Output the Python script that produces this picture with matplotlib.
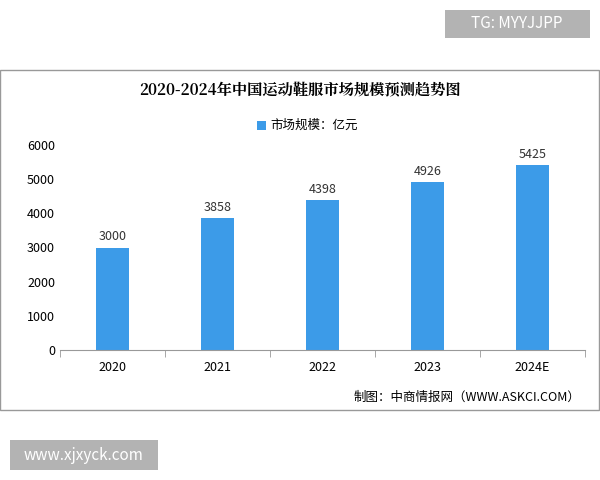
import matplotlib
matplotlib.use("Agg")
import matplotlib.pyplot as plt
from matplotlib.patches import Rectangle

plt.rcParams['font.family'] = ['Noto Sans CJK SC', 'DejaVu Sans']

years = ["2020", "2021", "2022", "2023", "2024E"]
values = [3000, 3858, 4398, 4926, 5425]

fig = plt.figure(figsize=(6, 4.8), dpi=100)
fig.patches.append(Rectangle((0.0, 1-410/480), 0.999, 340/480, transform=fig.transFigure,
                             fill=False, edgecolor='#999999', linewidth=1))
fig.patches.append(Rectangle((445/600, 1-38/480), 145/600, 28/480, transform=fig.transFigure,
                             facecolor='#b3b3b3', edgecolor='none'))
fig.text(517/600, 1-24/480, "TG: MYYJJPP", color='white', fontsize=11, ha='center', va='center')
fig.patches.append(Rectangle((10/600, 1-470/480), 148/600, 30/480, transform=fig.transFigure,
                             facecolor='#b3b3b3', edgecolor='none'))
fig.text(84/600, 1-455/480, "www.xjxyck.com", color='white', fontsize=11, ha='center', va='center')

ax = fig.add_axes([0.1, 1-350/480, 0.875, 205/480])
x = range(len(years))
bars = ax.bar(x, values, width=0.32, color='#3c9be8')
for i, v in zip(x, values):
    ax.text(i, v + 120, str(v), ha='center', va='bottom', fontsize=9, color='#333333')
ax.set_ylim(0, 6000)
ax.set_xlim(-0.5, len(years) - 0.5)
ax.set_yticks(range(0, 6001, 1000))
ax.set_xticks(list(x))
ax.set_xticklabels(years)
ax.set_xticks([i - 0.5 for i in range(len(years) + 1)], minor=True)
ax.tick_params(axis='x', which='major', length=0, pad=8, labelsize=9)
ax.tick_params(axis='x', which='minor', length=5, color='#999999')
ax.tick_params(axis='y', length=0, labelsize=9)
for s in ['top', 'right', 'left']:
    ax.spines[s].set_visible(False)
ax.spines['bottom'].set_color('#999999')

fig.text(0.5, 1-90/480, "2020-2024年中国运动鞋服市场规模预测趋势图", ha='center', va='center',
         fontsize=11, fontweight='bold', family=['Noto Serif CJK SC', 'Noto Sans CJK SC', 'DejaVu Sans'])
fig.patches.append(Rectangle((257/600, 1-130/480), 9/600, 9/480, transform=fig.transFigure,
                             facecolor='#3c9be8', edgecolor='none'))
fig.text(270/600, 1-125/480, "市场规模：亿元", ha='left', va='center', fontsize=9)
fig.text(580/600, 1-397/480, "制图：中商情报网（WWW.ASKCI.COM）", ha='right', va='center', fontsize=9)

fig.savefig("out.png", dpi=100, facecolor='white')
